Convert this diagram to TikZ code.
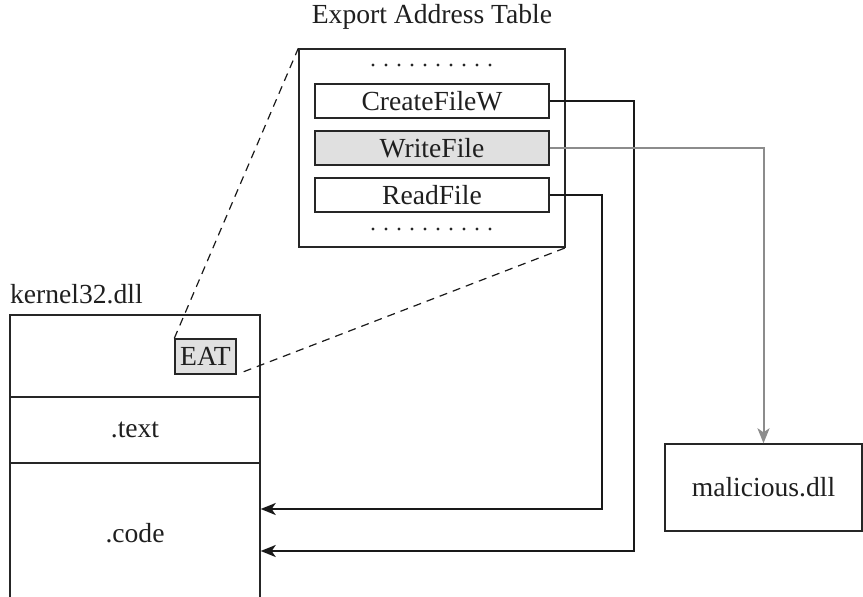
\documentclass[tikz,border=0pt]{standalone}
\usepackage{fontspec}
\setmainfont{Liberation Serif}
\usetikzlibrary{arrows.meta,calc}
\begin{document}
\begin{tikzpicture}[x=0.5pt,y=-0.5pt,
  every node/.style={font=\fontsize{13.8}{16}\selectfont, text=black!88},
  box/.style={draw=black!85, line width=0.7pt, rectangle, inner sep=0pt},
  entry/.style={box, minimum width=117pt, minimum height=17pt},
  hl/.style={fill=black!12},
  link/.style={line width=0.9pt, draw=black!90, -{Stealth[length=7.5pt,width=6pt,inset=2pt]}},
  glink/.style={line width=1pt, draw=black!45, -{Stealth[length=7.5pt,width=6pt,inset=2pt]}},
  zoomline/.style={dashed, dash pattern=on 4pt off 3pt, line width=0.6pt, draw=black!90}]
\path[use as bounding box, clip] (0,0) rectangle (863,596);

% Export Address Table
\node (title) at (432,17) {Export Address Table};
\node[box, minimum width=133pt, minimum height=99pt] (tbl) at (432,148) {};
\node[entry] (cfw) at (432,101) {CreateFileW};
\node[entry, hl] (wf) at (432,148) {WriteFile};
\node[entry] (rf) at (432,195) {ReadFile};
\foreach \i in {0,...,9} {
  \fill[black!85] (373+13*\i,65) circle (0.8pt);
  \fill[black!85] (373+13*\i,229) circle (0.8pt);
}

% kernel32.dll
\node[anchor=west] (klabel) at (3,294) {kernel32.dll};
\node[box, minimum width=125pt, minimum height=41pt] (hdr) at (135,356) {};
\node[box, minimum width=125pt, minimum height=33pt] (txt) at (135,430) {.text};
\node[box, minimum width=125pt, minimum height=70pt] (code) at (135,533) {.code};
\node[box, hl, minimum width=30.5pt, minimum height=17.5pt] (eat) at (205.5,356.5) {EAT};

% malicious.dll
\node[box, minimum width=98.5pt, minimum height=43.5pt] (mal) at (763.5,487.5) {malicious.dll};

% zoom lines
\draw[zoomline] (eat.north west) -- (tbl.north west);
\draw[zoomline] ([xshift=3.5pt,yshift=1.5pt]eat.south east) -- (tbl.south east);

% connectors
\draw[link] (rf.east) -- (602,195) |- ([yshift=12pt]code.east);
\draw[link] (cfw.east) -- (634,101) |- ([yshift=-9pt]code.east);
\draw[glink] (wf.east) -| (mal.north);
\end{tikzpicture}
\end{document}
